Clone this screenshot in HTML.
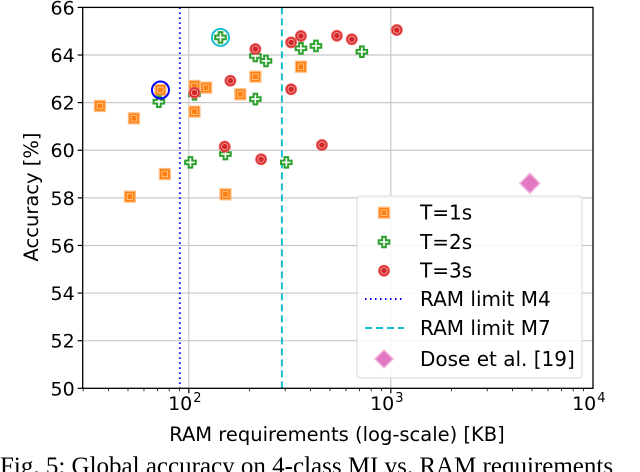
<!DOCTYPE html>
<html><head><meta charset="utf-8"><style>
html,body{margin:0;padding:0;background:#fff;width:640px;height:472px;overflow:hidden}
svg{display:block}
text{font-family:"DejaVu Sans","Liberation Sans",sans-serif;fill:#000}
</style></head><body>
<svg id="chart" width="640" height="472" viewBox="0 0 640 472"></svg>
<script>
const t1X=[36.3,53.5,72.4,76.1,51.1,106.7,106.7,121.9,180,213.6,151.8,359];
const t1Y=[61.86,61.34,62.53,59.0,58.05,62.70,61.62,62.63,62.35,63.09,58.15,63.51];
const t2X=[71.1,101.9,143.5,151.8,213.6,241,213.6,304,359,426,719,106.7];
const t2Y=[62.04,59.49,64.74,59.84,63.96,63.75,62.15,59.49,64.28,64.38,64.14,62.35];
const t3X=[106.7,160.7,150.6,213.6,228,321,321,359,456,541,641,1071];
const t3Y=[62.42,62.92,60.15,64.25,59.62,64.53,62.56,64.80,60.22,64.81,64.66,65.05];
const doseX=[4880];
const doseY=[58.61];
const limitM4=90.3, limitM7=289;
const highlightX=[72.4,143.5];
const highlightY=[62.53,64.74];
const yTicks=[50,52,54,56,58,60,62,64,66];
const xTicks=[100,1000,10000];
const xTickExp=["2","3","4"];

const L=82.7,R=593,T=7.4,B=388.3;
const xs=v=>188.8+(Math.log10(v)-2)*202;
const ys=v=>T+(66-v)*(B-T)/16;
const NS="http://www.w3.org/2000/svg";
const svg=document.getElementById('chart');
function mk(tag,attrs,parent){const e=document.createElementNS(NS,tag);for(const k in attrs)e.setAttribute(k,attrs[k]);(parent||svg).appendChild(e);return e;}

const grid=mk('g',{});


yTicks.forEach(v=>{if(v>50&&v<66)mk('line',{x1:L,x2:R,y1:ys(v),y2:ys(v),stroke:'#c8c8c8','stroke-width':1.2},grid);});
xTicks.forEach(v=>{if(v<10000)mk('line',{x1:xs(v),x2:xs(v),y1:T,y2:B,stroke:'#c8c8c8','stroke-width':1.2},grid);});

const m4=mk('line',{x1:xs(limitM4),x2:xs(limitM4),y1:T,y2:B,stroke:'#0000ff','stroke-width':2,'stroke-dasharray':'1.5,3.5'});


const m7=mk('line',{x1:xs(limitM7),x2:xs(limitM7),y1:T,y2:B,stroke:'#17becf','stroke-width':2,'stroke-dasharray':'7,4'});



function square(x,y,g){mk('rect',{x:x-5.5,y:y-5.5,width:11,height:11,fill:'#ff7f0e',stroke:'#ffbf86','stroke-width':1.3},g);mk('rect',{x:x-2.8,y:y-2.8,width:5.6,height:5.6,fill:'none',stroke:'#ffcf9e','stroke-width':0.8},g);}
function plus(x,y,g){const d=`M${x-1.8},${y-5.3}h3.6v3.5h3.5v3.6h-3.5v3.5h-3.6v-3.5h-3.5v-3.6h3.5z`;mk('path',{d,fill:'#ffffff',stroke:'#2ca02c','stroke-width':2},g);}
function circ(x,y,g){mk('circle',{cx:x,cy:y,r:5.5,fill:'#d62728',stroke:'#e66',"stroke-width":1},g);mk('circle',{cx:x,cy:y,r:3.2,fill:'none',stroke:'#f5b5b5','stroke-width':0.8},g);}
function diamond(x,y,g,s){s=s||10;mk('path',{d:`M${x},${y-s}L${x+s},${y}L${x},${y+s}L${x-s},${y}Z`,fill:'#e377c2',stroke:'#f3b6e0','stroke-width':1.5},g);}

const g1=mk('g',{});
t1X.forEach((v,i)=>square(xs(v),ys(t1Y[i]),g1));
const g2=mk('g',{});
t2X.forEach((v,i)=>plus(xs(v),ys(t2Y[i]),g2));
const g3=mk('g',{});
t3X.forEach((v,i)=>circ(xs(v),ys(t3Y[i]),g3));
const g4=mk('g',{});
doseX.forEach((v,i)=>diamond(xs(v),ys(doseY[i]),g4));
const hc=['#0000ff','#17becf'];
highlightX.forEach((v,i)=>{const c=mk('circle',{cx:xs(v),cy:ys(highlightY[i]),r:8.5,fill:'none',stroke:hc[i],'stroke-width':2});

});

// legend
const lg=mk('g',{});
mk('rect',{x:357,y:196,width:225,height:182,rx:3,fill:'#fff','fill-opacity':0.85,stroke:'#d8d8d8','stroke-width':1},lg);
const rows=[212.7,242,270.7,299,328,359];
const labels=['T=1s','T=2s','T=3s','RAM limit M4','RAM limit M7','Dose et al. [19]'];
square(384,rows[0],lg);plus(384,rows[1],lg);circ(384,rows[2],lg);
mk('line',{x1:365,x2:404,y1:rows[3],y2:rows[3],stroke:'#0000ff','stroke-width':2,'stroke-dasharray':'1.5,3.5'},lg);
mk('line',{x1:365,x2:404,y1:rows[4],y2:rows[4],stroke:'#17becf','stroke-width':2,'stroke-dasharray':'7,4'},lg);
diamond(384,rows[5],lg,9);
labels.forEach((s,i)=>{const t=mk('text',{x:420,y:rows[i]+7,'font-size':20},lg);t.textContent=s;

});

// axes
mk('rect',{x:L,y:T,width:R-L,height:B-T,fill:'none',stroke:'#000','stroke-width':1.3});
yTicks.forEach(v=>{mk('line',{x1:L-5,x2:L,y1:ys(v),y2:ys(v),stroke:'#000','stroke-width':1.2});
const t=mk('text',{x:L-8,y:ys(v)+7,'font-size':19,'text-anchor':'end'});t.textContent=v;

});
for(let d=1;d<=3;d++)for(let k=1;k<=9;k++){const v=k*Math.pow(10,d);const x=xs(v);if(x<L-0.5||x>R+0.5)continue;
mk('line',{x1:x,x2:x,y1:B,y2:B+(k==1?5:3),stroke:'#000','stroke-width':k==1?1.2:0.8});}
xTicks.forEach((v,i)=>{const t=mk('text',{x:xs(v)-4,y:410,'font-size':19,'text-anchor':'middle'});t.textContent='10';


const e=mk('tspan',{'font-size':13,dy:-8,dx:1},t);e.textContent=xTickExp[i];});
const xl=mk('text',{x:337,y:441,'font-size':19.5,'text-anchor':'middle'});xl.textContent='RAM requirements (log-scale) [KB]';


const yl=mk('text',{x:0,y:0,'font-size':19.5,'text-anchor':'middle',transform:'translate(38,197) rotate(-90)'});yl.textContent='Accuracy [%]';


const cap=mk('text',{x:0,y:474,'font-size':25,style:'font-family:"Liberation Serif",serif'});cap.textContent='Fig. 5: Global accuracy on 4-class MI vs. RAM requirements';


</script>
</body></html>
